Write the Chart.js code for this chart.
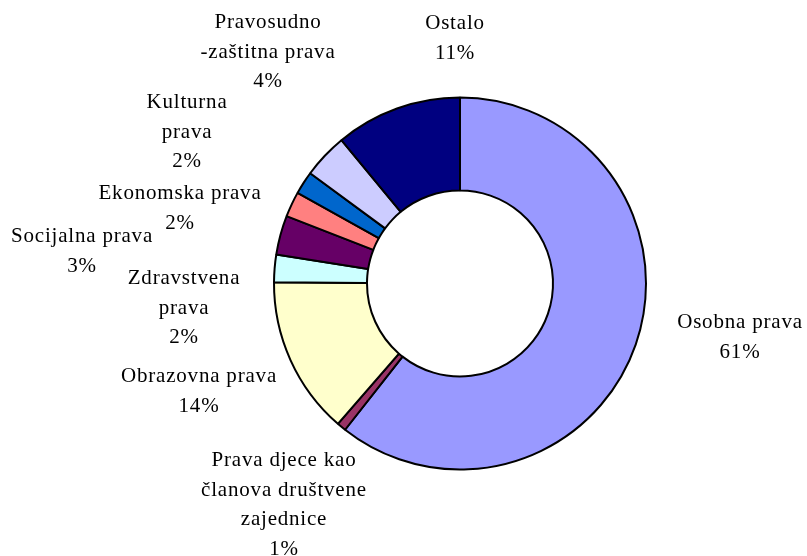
<!DOCTYPE html>
<html>
<head>
<meta charset="utf-8">
<script src="https://cdn.jsdelivr.net/npm/chart.js@4"></script>
<style>
  html, body { margin: 0; padding: 0; background: #fff; }
  #wrap { width: 807px; height: 556px; }
</style>
</head>
<body>
<div id="wrap"><canvas id="rightsChart" width="807" height="556"></canvas></div>
<script>
  // data, clockwise from 12 o'clock
  const categories = [
    ['Osobna prava'],
    ['Prava djece kao', 'članova društvene', 'zajednice'],
    ['Obrazovna prava'],
    ['Zdravstvena', 'prava'],
    ['Socijalna prava'],
    ['Ekonomska prava'],
    ['Kulturna', 'prava'],
    ['Pravosudno', '-zaštitna prava'],
    ['Ostalo']
  ];
  const shares = [60.6, 0.8, 13.7, 2.4, 3.4, 2.2, 2.0, 3.9, 11.0];
  const sliceColors = ['#9999FF', '#993366', '#FFFFCC', '#CCFFFF', '#660066', '#FF8080', '#0066CC', '#CCCCFF', '#000080'];

  // where each label block sits, relative to the ring centre (first line centre)
  const labelOffsets = [
    [280, 39], [-176, 177], [-261, 93], [-276, -5], [-378, -47],
    [-280, -90], [-273, -181], [-192, -261], [-5, -260]
  ];

  // ----- outside labels (Excel style) -----
  const outsideLabels = {
    id: 'outsideLabels',
    afterDraw(chart) {
      const ctx = chart.ctx;
      const arcs = chart.getDatasetMeta(0).data;
      const vals = chart.data.datasets[0].data;
      const total = vals.reduce((a, b) => a + b, 0);
      ctx.save();
      ctx.font = '21px "Liberation Serif", "Times New Roman", serif';
      ctx.letterSpacing = '0.8px';
      ctx.fillStyle = '#000';
      ctx.textAlign = 'center';
      ctx.textBaseline = 'middle';
      arcs.forEach((arc, i) => {
        const lines = chart.data.labels[i].concat([Math.round(vals[i] / total * 100) + '%']);
        const x = arc.x + labelOffsets[i][0];
        let y = arc.y + labelOffsets[i][1];
        lines.forEach(line => {
          ctx.fillText(line, x, y);
          y += 29.5;
        });
      });
      ctx.restore();
    }
  };

  const ctx = document.getElementById('rightsChart').getContext('2d');

  new Chart(ctx, {
    type: 'doughnut',
    data: {
      labels: categories,
      datasets: [{
        data: shares,
        backgroundColor: sliceColors,
        borderColor: '#000',
        borderWidth: 2,
        radius: 186
      }]
    },
    options: {
      responsive: false,
      animation: false,
      events: [],
      cutout: '50%',
      layout: { padding: { left: 113, right: 0, top: 11, bottom: 0 } },
      plugins: {
        legend: { display: false },
        tooltip: { enabled: false }
      }
    },
    plugins: [outsideLabels]
  });
</script>
</body>
</html>
